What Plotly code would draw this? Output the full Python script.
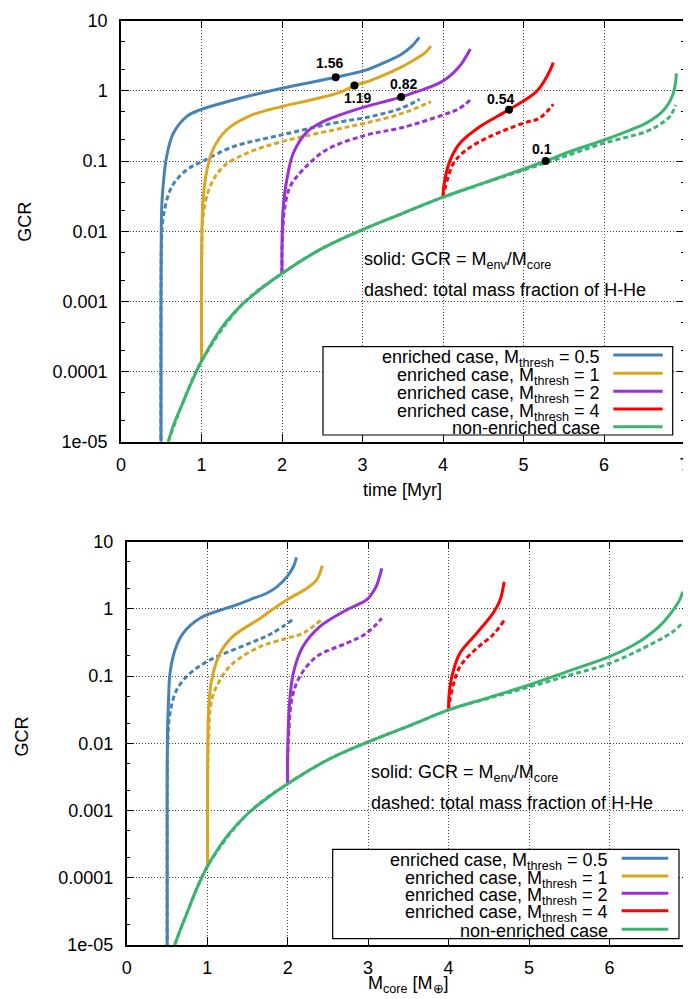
import math
import plotly.graph_objects as go

# ---------------- data: top panel (x = time [Myr]) ----------------
green_top_x = [0.588, 0.65, 0.75, 0.85, 1.0, 1.25, 1.5, 1.75, 2.0, 2.5, 3.0, 3.5, 4.0, 4.5, 5.0, 5.275, 5.6, 6.0, 6.3, 6.53, 6.74, 6.86, 6.9]
green_top_y = [1e-5, 1.7e-5, 3.2e-5, 6.0e-5, 1.4e-4, 4.2e-4, 8.9e-4, 1.55e-3, 2.5e-3, 5.7e-3, 0.0105, 0.018, 0.0305, 0.0485, 0.077, 0.1, 0.139, 0.2, 0.27, 0.35, 0.53, 0.92, 1.78]
green_top_dash_x = [0.588, 0.75, 1.0, 1.5, 2.0, 2.5, 3.0, 3.5, 4.0, 4.5, 5.0, 5.5, 6.0, 6.53, 6.74, 6.83, 6.89]
green_top_dash_y = [1e-5, 3.2e-5, 1.4e-4, 8.9e-4, 2.5e-3, 5.7e-3, 0.0105, 0.018, 0.0305, 0.048, 0.074, 0.115, 0.18, 0.265, 0.36, 0.45, 0.63]

blue_top_x = [0.497, 0.497, 0.500, 0.508, 0.526, 0.567, 0.65, 0.815, 0.98, 1.395, 2.0, 2.667, 3.05, 3.34, 3.47, 3.6, 3.706]
blue_top_y = [1e-6, 1e-3, 0.01, 0.025, 0.048, 0.116, 0.249, 0.43, 0.535, 0.74, 1.09, 1.56, 1.99, 2.75, 3.25, 4.2, 5.8]
blue_top_dash_x = [0.497, 0.497, 0.505, 0.526, 0.63, 0.816, 1.02, 1.395, 2.0, 2.64, 3.1, 3.47, 3.71]
blue_top_dash_y = [1e-6, 1e-3, 0.008, 0.0162, 0.043, 0.0747, 0.1, 0.16, 0.236, 0.347, 0.43, 0.56, 0.76]

yellow_top_x = [1.0, 1.0, 1.005, 1.02, 1.06, 1.14, 1.31, 1.6, 2.0, 2.4, 2.72, 2.9, 3.05, 3.22, 3.47, 3.65, 3.78, 3.85]
yellow_top_y = [1.4e-4, 1e-3, 0.01, 0.028, 0.067, 0.144, 0.277, 0.44, 0.6, 0.76, 0.95, 1.19, 1.34, 1.6, 2.15, 2.8, 3.5, 4.36]
yellow_top_dash_x = [1.0, 1.0, 1.005, 1.02, 1.105, 1.27, 1.56, 2.0, 2.64, 3.0, 3.47, 3.85]
yellow_top_dash_y = [1.4e-4, 1e-3, 0.006, 0.0162, 0.043, 0.083, 0.129, 0.189, 0.277, 0.34, 0.469, 0.70]

purple_top_x = [2.0, 2.0, 2.005, 2.016, 2.06, 2.14, 2.31, 2.48, 2.64, 3.05, 3.48, 4.0, 4.2, 4.34]
purple_top_y = [2.5e-3, 6e-3, 0.012, 0.0224, 0.054, 0.129, 0.26, 0.35, 0.42, 0.6, 0.82, 1.38, 2.2, 3.95]
purple_top_dash_x = [2.0, 2.0, 2.01, 2.03, 2.1, 2.26, 2.55, 3.05, 3.47, 4.0, 4.2, 4.34]
purple_top_dash_y = [2.5e-3, 5e-3, 0.01, 0.02, 0.043, 0.075, 0.144, 0.235, 0.295, 0.454, 0.56, 0.74]

red_top_x = [4.0, 4.005, 4.03, 4.09, 4.21, 4.46, 4.82, 5.16, 5.3, 5.37]
red_top_y = [0.0305, 0.04, 0.06, 0.104, 0.179, 0.31, 0.54, 0.975, 1.68, 2.53]
red_top_dash_x = [4.0, 4.01, 4.03, 4.13, 4.29, 4.58, 5.0, 5.2, 5.37]
red_top_dash_y = [0.0305, 0.036, 0.043, 0.093, 0.144, 0.223, 0.347, 0.41, 0.645]

dot_x = [2.667, 2.90, 3.48, 4.82, 5.275]
dot_y = [1.56, 1.19, 0.82, 0.54, 0.1]
dot_labels = ["1.56", "1.19", "0.82", "0.54", "0.1"]

# ---------------- data: bottom panel (x = M_core) ----------------
green_bot_x = [0.596, 0.65, 0.75, 0.85, 1.0, 1.25, 1.5, 1.75, 2.0, 2.5, 3.0, 3.5, 4.0, 4.5, 5.0, 5.5, 6.0, 6.3, 6.46, 6.65, 6.79, 6.87, 6.91]
green_bot_y = [1e-5, 1.5e-5, 3.0e-5, 6.0e-5, 1.46e-4, 4.2e-4, 8.9e-4, 1.55e-3, 2.5e-3, 5.7e-3, 0.0105, 0.018, 0.0314, 0.048, 0.074, 0.12, 0.195, 0.29, 0.386, 0.6, 0.963, 1.35, 1.8]
green_bot_dash_x = [0.596, 0.75, 1.0, 1.5, 2.0, 2.5, 3.0, 3.5, 4.0, 4.5, 5.0, 5.5, 6.0, 6.54, 6.79, 6.91]
green_bot_dash_y = [1e-5, 3.0e-5, 1.46e-4, 8.9e-4, 2.5e-3, 5.7e-3, 0.0105, 0.018, 0.0314, 0.047, 0.069, 0.103, 0.155, 0.309, 0.46, 0.625]

blue_bot_x = [0.503, 0.503, 0.507, 0.52, 0.538, 0.60, 0.70, 0.91, 1.21, 1.32, 1.55, 1.74, 1.87, 1.99, 2.07, 2.11]
blue_bot_y = [1e-6, 1e-3, 0.014, 0.045, 0.11, 0.245, 0.434, 0.726, 1.0, 1.1, 1.4, 1.71, 2.15, 3.0, 4.2, 5.86]
blue_bot_dash_x = [0.503, 0.503, 0.51, 0.538, 0.62, 0.786, 1.035, 1.53, 1.8, 2.09]
blue_bot_dash_y = [1e-6, 1e-3, 0.01, 0.028, 0.062, 0.11, 0.174, 0.309, 0.43, 0.726]

yellow_bot_x = [1.005, 1.005, 1.008, 1.02, 1.056, 1.16, 1.32, 1.66, 1.82, 1.99, 2.24, 2.36, 2.43]
yellow_bot_y = [1.46e-4, 1e-3, 0.01, 0.035, 0.088, 0.219, 0.39, 0.726, 1.0, 1.36, 2.03, 2.7, 4.4]
yellow_bot_dash_x = [1.005, 1.005, 1.015, 1.056, 1.16, 1.32, 1.66, 1.99, 2.2, 2.43]
yellow_bot_dash_y = [1.46e-4, 1e-3, 0.01, 0.044, 0.088, 0.155, 0.275, 0.366, 0.44, 0.71]

purple_bot_x = [2.0, 2.0, 2.005, 2.02, 2.07, 2.19, 2.40, 2.73, 2.98, 3.04, 3.10, 3.17]
purple_bot_y = [2.5e-3, 6e-3, 0.012, 0.035, 0.11, 0.275, 0.544, 0.963, 1.36, 1.65, 2.14, 4.0]
purple_bot_dash_x = [2.0, 2.0, 2.015, 2.05, 2.15, 2.36, 2.73, 2.98, 3.17]
purple_bot_dash_y = [2.5e-3, 6e-3, 0.015, 0.044, 0.098, 0.195, 0.309, 0.434, 0.726]

red_bot_x = [4.0, 4.005, 4.04, 4.14, 4.35, 4.55, 4.64, 4.69]
red_bot_y = [0.0314, 0.05, 0.098, 0.219, 0.434, 0.86, 1.36, 2.54]
red_bot_dash_x = [4.0, 4.01, 4.04, 4.14, 4.35, 4.55, 4.69]
red_bot_dash_y = [0.0314, 0.04, 0.06, 0.138, 0.26, 0.41, 0.67]

legend_labels = [
    "enriched case, M<sub>thresh</sub> = 0.5",
    "enriched case, M<sub>thresh</sub> = 1",
    "enriched case, M<sub>thresh</sub> = 2",
    "enriched case, M<sub>thresh</sub> = 4",
    "non-enriched case",
]
x_ticks = [0, 1, 2, 3, 4, 5, 6, 7]
y_ticks = [1e-5, 1e-4, 1e-3, 1e-2, 1e-1, 1, 10]
y_ticktext = ["1e-05", "0.0001", "0.001", "0.01", "0.1", "1", "10"]

# ---------------- styling ----------------
BLUE, YELLOW, PURPLE, RED, GREEN = "#4682b4", "#dba520", "#9b30d6", "#ff0000", "#3cb371"
COLORS = [BLUE, YELLOW, PURPLE, RED, GREEN]
FONT = "Liberation Sans, Arial, sans-serif"
FS = 18
LW = 3
DASH = "5px,3px"

# the page body has an 8px margin: the figure is laid out in window pixels minus that offset
OFF = 8
FW, FH = 691 - OFF, 999 - OFF


def px_x(p):
    return (p - OFF) / FW


def px_y(p):
    return 1 - (p - OFF) / FH


fig = go.Figure()

top_sets = [
    (blue_top_x, blue_top_y, blue_top_dash_x, blue_top_dash_y, BLUE),
    (yellow_top_x, yellow_top_y, yellow_top_dash_x, yellow_top_dash_y, YELLOW),
    (purple_top_x, purple_top_y, purple_top_dash_x, purple_top_dash_y, PURPLE),
    (red_top_x, red_top_y, red_top_dash_x, red_top_dash_y, RED),
    (green_top_x, green_top_y, green_top_dash_x, green_top_dash_y, GREEN),
]
bot_sets = [
    (blue_bot_x, blue_bot_y, blue_bot_dash_x, blue_bot_dash_y, BLUE),
    (yellow_bot_x, yellow_bot_y, yellow_bot_dash_x, yellow_bot_dash_y, YELLOW),
    (purple_bot_x, purple_bot_y, purple_bot_dash_x, purple_bot_dash_y, PURPLE),
    (red_bot_x, red_bot_y, red_bot_dash_x, red_bot_dash_y, RED),
    (green_bot_x, green_bot_y, green_bot_dash_x, green_bot_dash_y, GREEN),
]

for sets, xa, ya in [(top_sets, "x", "y"), (bot_sets, "x2", "y2")]:
    for sx, sy, dx, dy, col in sets:
        fig.add_trace(go.Scatter(x=sx, y=sy, mode="lines", xaxis=xa, yaxis=ya, showlegend=False,
                                 line=dict(color=col, width=LW, shape="spline", smoothing=1.0),
                                 hoverinfo="skip"))
        fig.add_trace(go.Scatter(x=dx, y=dy, mode="lines", xaxis=xa, yaxis=ya, showlegend=False,
                                 line=dict(color=col, width=LW, dash=DASH, shape="spline", smoothing=1.0),
                                 hoverinfo="skip"))

fig.add_trace(go.Scatter(x=dot_x, y=dot_y, mode="markers", xaxis="x", yaxis="y", showlegend=False,
                         marker=dict(color="black", size=8), hoverinfo="skip"))

label_shift = [(-6, 14), (3, -12), (2, 13), (-9, 11), (-4, 12)]
annotations = []
for lx, ly, lt, (sxp, syp) in zip(dot_x, dot_y, dot_labels, label_shift):
    annotations.append(dict(x=lx, y=math.log10(ly), xref="x", yref="y", text="<b>" + lt + "</b>",
                            showarrow=False, xshift=sxp, yshift=syp,
                            font=dict(family=FONT, size=14, color="black")))

# axis geometry in window pixels
TOP = dict(x0=121, x1=684.5, y0=20.7, y1=441.7)
BOT = dict(x0=126.7, x1=690, y0=541.7, y1=945)

axis_common = dict(showline=True, linecolor="black", linewidth=1.5, mirror="ticks", ticks="inside",
                   ticklen=8, tickwidth=1, tickcolor="black", showgrid=True, gridcolor="#444",
                   griddash="1px,2px", gridwidth=1, zeroline=False, automargin=False,
                   ticklabeloverflow="allow",
                   tickfont=dict(family=FONT, size=FS, color="black"))

fig.update_layout(
    width=FW, height=FH, margin=dict(l=0, r=0, t=0, b=0, autoexpand=False),
    paper_bgcolor="white", plot_bgcolor="white",
    xaxis=dict(domain=[px_x(TOP["x0"]), px_x(TOP["x1"])], range=[0, 7], tickvals=x_ticks, anchor="y",
               ticklabelstandoff=6, **axis_common),
    yaxis=dict(domain=[px_y(TOP["y1"]), px_y(TOP["y0"])], type="log", range=[-5, 1], tickvals=y_ticks,
               ticktext=y_ticktext, anchor="x", ticklabelstandoff=8,
               minor=dict(ticks="inside", ticklen=4, dtick="D2", tickcolor="black", showgrid=False),
               **axis_common),
    xaxis2=dict(domain=[px_x(BOT["x0"]), px_x(BOT["x1"])], range=[0, 7], tickvals=x_ticks, anchor="y2",
                ticklabelstandoff=6, **axis_common),
    yaxis2=dict(domain=[px_y(BOT["y1"]), px_y(BOT["y0"])], type="log", range=[-5, 1], tickvals=y_ticks,
                ticktext=y_ticktext, anchor="x2", ticklabelstandoff=8,
                minor=dict(ticks="inside", ticklen=4, dtick="D2", tickcolor="black", showgrid=False),
                **axis_common),
)

# axis titles
for (tx, ty, txt, ang) in [
    (25, 221.7, "GCR", -90), (21.7, 736.7, "GCR", -90),
    (402.7, 490, "time [Myr]", 0), (408, 984, "M<sub>core</sub> [M<sub>⊕</sub>]", 0),
]:
    annotations.append(dict(x=px_x(tx), y=px_y(ty), xref="paper", yref="paper", text=txt, showarrow=False,
                            textangle=ang, xanchor="center", yanchor="middle",
                            font=dict(family=FONT, size=FS, color="black")))

# in-plot notes
for (nx, ny) in [(362.3, 260), (368.5, 773)]:
    annotations.append(dict(x=px_x(nx), y=px_y(ny), xref="paper", yref="paper", xanchor="left", yanchor="middle",
                            text="solid: GCR = M<sub>env</sub>/M<sub>core</sub>", showarrow=False,
                            font=dict(family=FONT, size=FS, color="black")))
    annotations.append(dict(x=px_x(nx), y=px_y(ny + 29.5), xref="paper", yref="paper", xanchor="left",
                            yanchor="middle", text="dashed: total mass fraction of H-He", showarrow=False,
                            font=dict(family=FONT, size=FS, color="black")))

# manual legends (text right-aligned, sample line on the right, as in the original)
shapes = []
for box, rows, txt_right, s0, s1 in [
    ((323, 346.7, 672.7, 435), [355, 373.3, 391.3, 409, 426.7], 601.7, 613.3, 662.7),
    ((332.7, 849.3, 679, 938.7), [858.3, 876, 893.3, 910.7, 929.3], 610, 621.7, 668.3),
]:
    shapes.append(dict(type="rect", xref="paper", yref="paper", x0=px_x(box[0]), x1=px_x(box[2]),
                       y0=px_y(box[3]), y1=px_y(box[1]), line=dict(color="black", width=1.2),
                       fillcolor="white", layer="above"))
    for ry, lab, col in zip(rows, legend_labels, COLORS):
        shapes.append(dict(type="line", xref="paper", yref="paper", x0=px_x(s0), x1=px_x(s1),
                           y0=px_y(ry), y1=px_y(ry), line=dict(color=col, width=LW), layer="above"))
        annotations.append(dict(x=px_x(txt_right), y=px_y(ry - 10.5), xref="paper", yref="paper",
                                xanchor="right", yanchor="top", text=lab, showarrow=False,
                                font=dict(family=FONT, size=FS, color="black")))

fig.update_layout(annotations=annotations, shapes=shapes)
fig.write_html("out.html")
